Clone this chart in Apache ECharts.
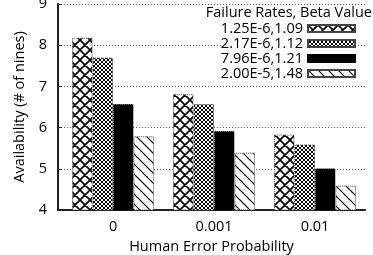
<!DOCTYPE html>
<html>
<head>
<meta charset="utf-8">
<script src="https://cdn.jsdelivr.net/npm/echarts@6/dist/echarts.min.js"></script>
<style>html,body{margin:0;padding:0;background:#fff;}#c{width:373px;height:255px;}</style>
</head>
<body>
<div id="c"></div>
<script>
const categories = ['0', '0.001', '0.01'];
const seriesNames = ['1.25E-6,1.09', '2.17E-6,1.12', '7.96E-6,1.21', '2.00E-5,1.48'];
const s1 = [8.18, 6.81, 5.83];
const s2 = [7.70, 6.57, 5.59];
const s3 = [6.57, 5.92, 5.01];
const s4 = [5.79, 5.39, 4.59];
const yTicks = [4, 5, 6, 7, 8, 9];
const legendTitle = 'Failure Rates, Beta Value';
const xTitle = 'Human Error Probability';
const yTitle = 'Availability (# of nines)';

function makePattern(kind) {
  const c = document.createElement('canvas');
  const n = kind === 'fine' ? 4 : 10;
  c.width = n; c.height = n;
  const g = c.getContext('2d');
  g.fillStyle = '#fff'; g.fillRect(0, 0, n, n);
  g.strokeStyle = '#000';
  g.lineWidth = kind === 'fine' ? 1 : (kind === 'diag' ? 1.2 : 1.6);
  g.beginPath();
  if (kind !== 'solid') {
    for (let k = -1; k <= 1; k++) {
      g.moveTo(k * n - 1, -1); g.lineTo(k * n + n + 1, n + 1);
      if (kind !== 'diag') { g.moveTo(k * n + n + 1, -1); g.lineTo(k * n - 1, n + 1); }
    }
  }
  g.stroke();
  return { image: c, repeat: 'repeat' };
}

const fills = [makePattern('diamond'), makePattern('fine'), '#000', makePattern('diag')];
const values = [s1, s2, s3, s4];
const FONT = 'Open Sans';
const FS = 14.5;
const TC = '#000';

const chart = echarts.init(document.getElementById('c'), null, { renderer: 'canvas' });
chart.setOption({
  animation: false,
  backgroundColor: '#fff',
  textStyle: { fontFamily: FONT },
  title: {
    text: legendTitle, right: 1, top: 5, padding: 0,
    textStyle: { fontFamily: FONT, fontSize: FS, fontWeight: 'normal', color: TC }
  },
  legend: {
    data: seriesNames,
    right: 17, top: 21, orient: 'vertical', align: 'right',
    itemWidth: 47, itemHeight: 7, itemGap: 0, padding: 0,
    backgroundColor: '#fff',
    icon: 'rect',
    textStyle: { fontFamily: FONT, fontSize: FS, color: TC, lineHeight: 13 }
  },
  grid: { left: 58, right: 8, top: 4, bottom: 45, containLabel: false, outerBoundsMode: 'none' },
  xAxis: {
    type: 'value', min: -0.545, max: 2.495,
    name: xTitle, nameLocation: 'middle', nameGap: 28,
    nameTextStyle: { fontFamily: FONT, fontSize: FS, color: TC },
    axisLine: { show: true, onZero: false, lineStyle: { color: '#222', width: 2 } },
    axisTick: { show: false },
    splitLine: { show: false },
    axisLabel: {
      customValues: [0, 1, 2],
      formatter: v => categories[v],
      fontFamily: FONT, fontSize: FS, color: TC, margin: 9
    }
  },
  yAxis: {
    type: 'value', min: yTicks[0], max: yTicks[yTicks.length - 1], interval: 1,
    name: yTitle, nameLocation: 'middle', nameGap: 30,
    nameTextStyle: { fontFamily: FONT, fontSize: FS, color: TC },
    axisLine: { show: true, onZero: false, lineStyle: { color: '#222', width: 2 } },
    axisTick: { show: true, inside: true, length: 4, lineStyle: { color: '#222' } },
    splitLine: { show: true, lineStyle: { color: '#555', width: 1, type: [1, 2] } },
    axisLabel: { fontFamily: FONT, fontSize: FS, color: TC, margin: 11 }
  },
  series: values.map((vals, i) => ({
    name: seriesNames[i],
    type: 'bar',
    barWidth: 20.5,
    barGap: '0%',
    data: vals.map((v, j) => [j, v]),
    itemStyle: {
      color: fills[i],
      borderColor: i === 2 ? '#000' : '#444',
      borderWidth: 1,
      borderType: [1, 1]
    }
  }))
});
</script>
</body>
</html>
